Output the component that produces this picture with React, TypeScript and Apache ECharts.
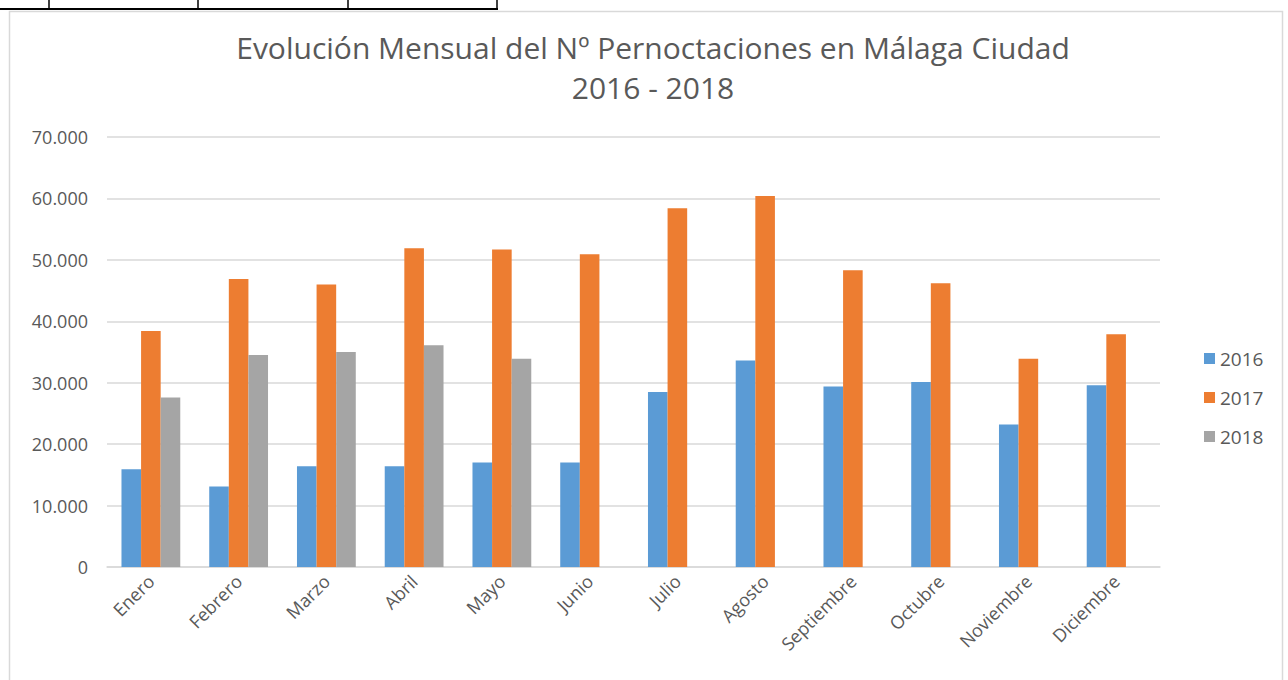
import React, { useEffect, useRef } from "react";
import * as echarts from "echarts";

const months = ["Enero", "Febrero", "Marzo", "Abril", "Mayo", "Junio", "Julio", "Agosto", "Septiembre", "Octubre", "Noviembre", "Diciembre"];
const y2016 = [15900, 13100, 16400, 16400, 17000, 17000, 28500, 33600, 29400, 30100, 23200, 29600];
const y2017 = [38400, 46900, 46000, 51900, 51700, 50900, 58400, 60400, 48300, 46200, 33900, 37900];
const y2018 = [27600, 34500, 35000, 36100, 33900, null, null, null, null, null, null, null];
const seriesNames = ["2016", "2017", "2018"];
const colors = ["#5b9bd5", "#ed7d31", "#a5a5a5"];

const FONT = "'Open Sans', sans-serif";

export default function App() {
  const ref = useRef<HTMLDivElement>(null);
  useEffect(() => {
    document.body.style.margin = "0";
    const chart = echarts.init(ref.current!, null, { renderer: "svg" });
    const fmt = (v: number) => (v === 0 ? "0" : v.toLocaleString("de-DE"));
    chart.setOption({
      animation: false,
      backgroundColor: "#ffffff",
      color: colors,
      title: {
        text: "Evolución Mensual del Nº Pernoctaciones en Málaga Ciudad\n2016 - 2018",
        left: 648,
        textAlign: "center",
        top: 22,
        textStyle: { fontFamily: FONT, fontSize: 30, fontWeight: "normal", color: "#595959", lineHeight: 40 },
      },
      legend: {
        orient: "vertical",
        left: 1199,
        top: 344,
        itemWidth: 11,
        itemHeight: 11,
        itemGap: 20,
        icon: "rect",
        textStyle: { fontFamily: FONT, fontSize: 19, color: "#595959" },
        data: seriesNames,
      },
      grid: { left: 107, right: 128, top: 137, bottom: 113, containLabel: false },
      xAxis: {
        type: "category",
        data: months,
        axisTick: { show: false },
        axisLine: { lineStyle: { color: "#d9d9d9", width: 1.5 } },
        axisLabel: { rotate: 45, fontFamily: FONT, fontSize: 18, color: "#595959", margin: 11, interval: 0 },
      },
      yAxis: {
        type: "value",
        min: 0,
        max: 70000,
        interval: 10000,
        axisLine: { show: false },
        axisTick: { show: false },
        splitLine: { lineStyle: { color: "#d9d9d9", width: 1.5 } },
        axisLabel: { fontFamily: FONT, fontSize: 18, color: "#595959", margin: 19, formatter: fmt },
      },
      series: [y2016, y2017, y2018].map((d, i) => ({
        name: seriesNames[i],
        type: "bar",
        data: d,
        barGap: "0%",
        barCategoryGap: "33%",
        itemStyle: { color: colors[i] },
      })),
      graphic: [
        { type: "rect", shape: { x: 9.5, y: 11.5, width: 1273, height: 700 }, style: { fill: "none", stroke: "#d9d9d9", lineWidth: 1.5 } },
        { type: "line", shape: { x1: 0, y1: 9, x2: 498, y2: 9 }, style: { stroke: "#000", lineWidth: 2 } },
        { type: "line", shape: { x1: 49, y1: 0, x2: 49, y2: 9 }, style: { stroke: "#000", lineWidth: 1.5 } },
        { type: "line", shape: { x1: 198, y1: 0, x2: 198, y2: 9 }, style: { stroke: "#000", lineWidth: 1.5 } },
        { type: "line", shape: { x1: 348, y1: 0, x2: 348, y2: 9 }, style: { stroke: "#000", lineWidth: 1.5 } },
        { type: "line", shape: { x1: 497, y1: 0, x2: 497, y2: 9 }, style: { stroke: "#000", lineWidth: 1.5 } },
      ],
    });
    return () => chart.dispose();
  }, []);
  return <div ref={ref} style={{ width: 1288, height: 680 }} />;
}
